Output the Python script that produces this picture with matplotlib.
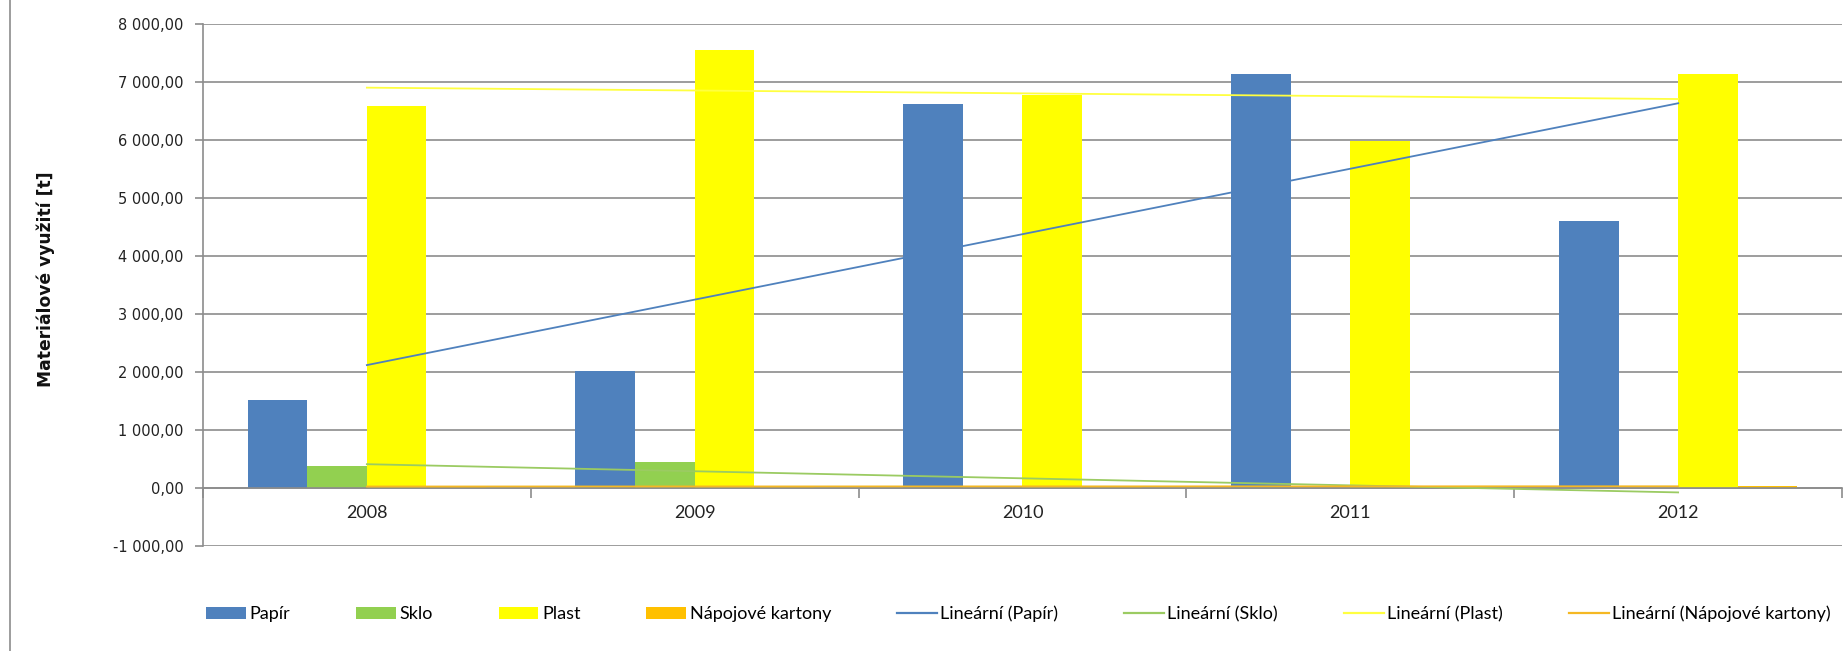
import matplotlib
matplotlib.use("Agg")
import matplotlib.pyplot as plt
from matplotlib.lines import Line2D
from matplotlib.patches import Patch
from matplotlib.ticker import FixedLocator, FuncFormatter
import numpy as np

years = ["2008", "2009", "2010", "2011", "2012"]
series_names = ["Papír", "Sklo", "Plast", "Nápojové kartony"]
papir = [1510, 2010, 6620, 7125, 4590]
sklo = [385, 445, 0, 0, 0]
plast = [6580, 7550, 6760, 5970, 7125]
napojove = [25, 28, 24, 27, 30]
colors = ["#4F81BD", "#92D050", "#FFFF00", "#FFC000"]
trend_colors = ["#4F81BD", "#9BCB62", "#FFFF40", "#F5B823"]

values = [papir, sklo, plast, napojove]

fig = plt.figure(figsize=(18.45, 6.51), dpi=100)
ax = fig.add_axes([0.110, 0.1613, 0.8884, 0.8026])

x = np.arange(1, len(years) + 1)
width = 1 / 5.5
offsets = np.array([-1.5, -0.5, 0.5, 1.5]) * width

for vals, off, col in zip(values, offsets, colors):
    ax.bar(x + off, vals, width=width, color=col, zorder=2, linewidth=0)

# linear trendlines (Excel "Lineární")
for vals, col in zip(values, trend_colors):
    k, q = np.polyfit(x, vals, 1)
    ax.plot([x[0], x[-1]], [k * x[0] + q, k * x[-1] + q], color=col, lw=1.3, zorder=3)

ax.set_xlim(0.5, 5.5)
ax.set_ylim(-1000, 8000)

ax.yaxis.set_major_locator(FixedLocator(np.arange(-1000, 8001, 1000)))
ax.yaxis.set_major_formatter(FuncFormatter(
    lambda v, p: f"{v:,.2f}".replace(",", " ").replace(".", ",")))
ax.grid(axis="y", color="#8c8c8c", lw=1.2, zorder=0)
ax.set_axisbelow(True)

for s in ["top", "right"]:
    ax.spines[s].set_visible(False)
ax.spines["left"].set_color("#8c8c8c")
ax.spines["left"].set_linewidth(1.2)
ax.spines["bottom"].set_position(("data", 0))
ax.spines["bottom"].set_color("#8c8c8c")
ax.spines["bottom"].set_linewidth(1.2)

ax.xaxis.set_major_locator(FixedLocator(np.arange(0.5, 5.6, 1)))
ax.xaxis.set_major_formatter(FuncFormatter(lambda v, p: ""))
ax.xaxis.set_minor_locator(FixedLocator(x))
ax.set_xticklabels(years, minor=True)
ax.tick_params(axis="x", which="major", direction="out", length=7, color="#8c8c8c", width=1.2)
ax.tick_params(axis="x", which="minor", length=0, pad=12, labelsize=13, labelcolor="#222222")
for lbl in ax.get_xticklabels(minor=True):
    lbl.set_family("Lato")
ax.tick_params(axis="y", direction="out", length=6, color="#8c8c8c", width=1.2,
               labelsize=10.5, labelcolor="#222222", pad=8)

fig.text(0.0247, 0.571, "Materiálové využití [t]", rotation=90, fontsize=12.3,
         fontweight="bold", ha="center", va="center", color="#111111")

handles = [Patch(facecolor=c, edgecolor="none") for c in colors]
handles += [Line2D([0], [0], color=c, lw=1.6) for c in trend_colors]
labels = series_names + [f"Lineární ({n})" for n in series_names]
leg = fig.legend(handles, labels, loc="center", bbox_to_anchor=(0.552, 0.057), ncol=8,
                 frameon=False, handlelength=2.2, handleheight=0.6, handletextpad=0.2,
                 columnspacing=3.65, prop={"family": "Lato", "size": 13})

# chart frame on the left edge
fig.add_artist(Line2D([0.0055, 0.0055], [0, 1], transform=fig.transFigure,
                      color="#8c8c8c", lw=1.2))

fig.savefig("out.png", dpi=100, facecolor="white")
